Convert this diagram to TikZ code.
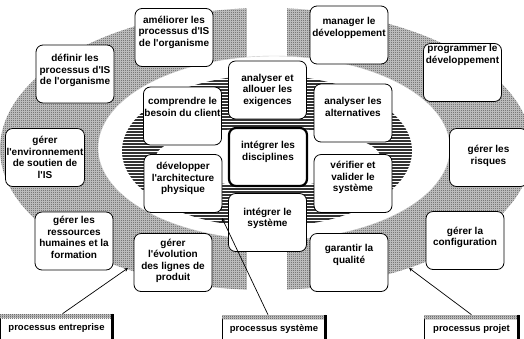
\documentclass[tikz,border=0pt]{standalone}
\usepackage{fontspec}
\setmainfont{Liberation Sans}[Ligatures=TeXOff]
\usetikzlibrary{patterns}

% fine checker for the outer ring
\pgfdeclarepatternformonly{stipple}{\pgfpointorigin}{\pgfpoint{2pt}{2pt}}{\pgfpoint{2pt}{2pt}}{%
  \pgfpathrectangle{\pgfpointorigin}{\pgfpoint{1pt}{1pt}}%
  \pgfpathrectangle{\pgfpoint{1pt}{1pt}}{\pgfpoint{1pt}{1pt}}%
  \pgfusepath{fill}}

\begin{document}
\begin{tikzpicture}[>=stealth,x=1pt,y=-1pt,
  dots/.style={fill=gray!40,postaction={pattern=stipple,pattern color=black!70}},
  box/.style={draw,fill=white,rounded corners=7pt,line width=0.8pt,minimum width=78pt,minimum height=58pt,
    inner xsep=1pt,inner ysep=0pt,align=center,text depth=12pt,font=\bfseries\fontsize{10}{11.5}\selectfont},
  tag/.style={draw,fill=white,line width=0.6pt,minimum height=28pt,inner sep=0pt,
    font=\bfseries\fontsize{9.5}{11}\selectfont}]
\useasboundingbox (0,0) rectangle (524,338);
\clip (0,0) rectangle (524,338);

% rings
\path[dots] (266,149) ellipse [x radius=266pt,y radius=141pt];
\fill[white] (247,0) rectangle (287,300);
\filldraw[fill=white,draw=gray!45,line width=0.4pt] (274,148) ellipse [x radius=176pt,y radius=92pt];
\begin{scope}
  \clip (267,151) ellipse [x radius=145pt,y radius=76pt];
  \foreach \y in {75,78,...,228}
    \draw[line width=1.4pt,black!80] (120,\y) -- (415,\y);
\end{scope}
\fill[white] (268,157) ellipse [x radius=112pt,y radius=29pt];

% organisation
\node[box,text depth=13pt] (amel) at (174,37.5) {améliorer les\\processus d'IS\\de l'organisme};
\node[box,text depth=9pt] (defin) at (75,74) {définir les\\processus d'IS\\de l'organisme};
\node[box,text depth=0pt] (genv) at (45,157.5) {gérer\\l'environnement\\de soutien de\\l'IS};
\node[box,text depth=7pt] (gres) at (74,241) {gérer les\\ressources\\humaines et la\\formation};
\node[box,text depth=5pt] (gevol) at (173,262.5) {gérer\\l'évolution\\des lignes de\\produit};

% systeme
\node[box,text depth=18pt] (compr) at (182.5,116) {comprendre le\\besoin du client};
\node[box,text depth=2pt] (anal) at (267.5,90) {analyser et\\allouer les\\exigences};
\node[box] (alter) at (353,113) {analyser les\\alternatives};
\node[box,line width=2.2pt] (integ) at (268,157) {intégrer les\\disciplines};
\node[box] (devel) at (183,183.5) {développer\\l'architecture\\physique};
\node[box,text depth=14pt] (verif) at (353,183.5) {vérifier et\\valider le\\système};
\node[box,text depth=10pt] (isys) at (267.5,222.5) {intégrer le\\système};

% projet
\node[box,text depth=16pt] (manag) at (349,35) {manager le\\développement};
\node[box,text depth=37pt] (progr) at (462.5,72.5) {programmer le\\développement};
\node[box,text depth=5pt] (risq) at (488.5,157.5) {gérer les\\risques};
\node[box,text depth=8pt] (conf) at (465,240.5) {gérer la\\configuration};
\node[box,text depth=17pt] (qual) at (349,262.5) {garantir la\\qualité};

% legend tags
\node[tag,minimum width=113pt] (pe) at (56.5,328) {processus entreprise};
\path[dots] ([xshift=0.5pt,yshift=-0.5pt]pe.north west) rectangle ([xshift=-0.5pt,yshift=-4.5pt]pe.north east);
\draw[line width=2pt] ([xshift=-1pt]pe.north east) -- ([xshift=-1pt]pe.south east);
\node[tag,minimum width=104pt] (ps) at (274,329) {processus système};
\path[dots] ([xshift=0.5pt,yshift=-0.5pt]ps.north west) rectangle ([xshift=-0.5pt,yshift=-4.5pt]ps.north east);
\draw[line width=2pt] ([xshift=-1pt]ps.north east) -- ([xshift=-1pt]ps.south east);
\node[tag,minimum width=95pt] (pp) at (471.5,329) {processus projet};
\path[dots] ([xshift=0.5pt,yshift=-0.5pt]pp.north west) rectangle ([xshift=-0.5pt,yshift=-4.5pt]pp.north east);
\draw[line width=2pt] ([xshift=-1pt]pp.north east) -- ([xshift=-1pt]pp.south east);

% arrows into the rings
\coordinate (tipe) at (128,268);
\coordinate (tips) at (222,218);
\coordinate (tipp) at (409,268);
\draw[->,line width=0.7pt] ([xshift=6pt]pe.north) -- (tipe);
\draw[->,line width=0.7pt] ([xshift=-6pt]ps.north) -- (tips);
\draw[->,line width=0.7pt] (pp.north) -- (tipp);
\end{tikzpicture}
\end{document}
